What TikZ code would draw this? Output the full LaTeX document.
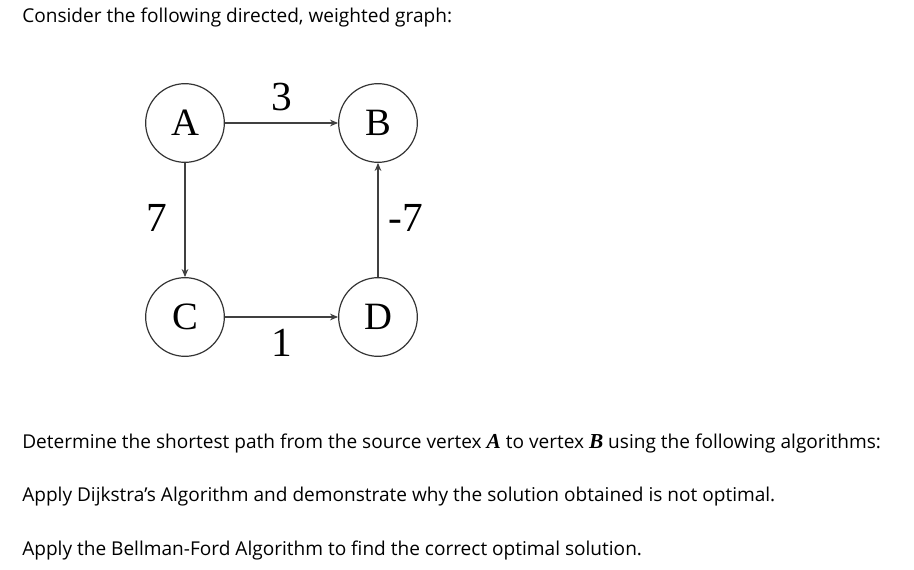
\documentclass[tikz,border=0pt]{standalone}
\usepackage{fontspec}
\setmainfont{Open Sans}
\newfontfamily\graphfont{Liberation Serif}
\usetikzlibrary{arrows.meta}
\tikzset{%
  vertex/.style = {shape=circle, draw=black!80, line width=0.9pt,%
                   minimum size=59pt, inner sep=0pt,%
                   font=\graphfont\fontsize{29}{29}\selectfont},%
  weight/.style = {font=\graphfont\fontsize{31}{31}\selectfont},%
  edge/.style   = {draw=black!75, line width=0.8pt,%
                   -{Stealth[length=6pt,width=5pt]}},%
  prose/.style  = {anchor=base west, inner sep=0pt,%
                   font=\fontsize{14.3}{14.3}\selectfont}%
}
\begin{document}
\begin{tikzpicture}[x=0.75pt,y=-0.75pt]
  \useasboundingbox (0,0) rectangle (914,570);
  \node[prose] (intro) at (22,23) {Consider the following directed, weighted graph:};
  % the graph
  \node[vertex] (A) at (185,123) {A};
  \node[vertex] (B) at (378,123) {B};
  \node[vertex] (C) at (185,317) {C};
  \node[vertex] (D) at (378,317) {D};
  \draw[edge] (A) -- (B);
  \draw[edge] (A) -- (C);
  \draw[edge] (C) -- (D);
  \draw[edge] (D) -- (B);
  \node[weight] (wAB) at (282,97)  {3};
  \node[weight] (wAC) at (157,218) {7};
  \node[weight] (wDB) at (406,218) {-7};
  \node[weight] (wCD) at (282,343) {1};
  % the questions
  \node[prose] (task) at (22,448) {Determine the shortest path from the source vertex
    {\graphfont\bfseries\itshape\fontsize{16}{16}\selectfont A} to vertex {\graphfont\bfseries\itshape\fontsize{16}{16}\selectfont B} using the following algorithms:};
  \node[prose] (dijk) at (22,501) {Apply Dijkstra’s Algorithm and demonstrate why the solution obtained is not optimal.};
  \node[prose] (bell) at (22,555) {Apply the Bellman-Ford Algorithm to find the correct optimal solution.};
\end{tikzpicture}
\end{document}
